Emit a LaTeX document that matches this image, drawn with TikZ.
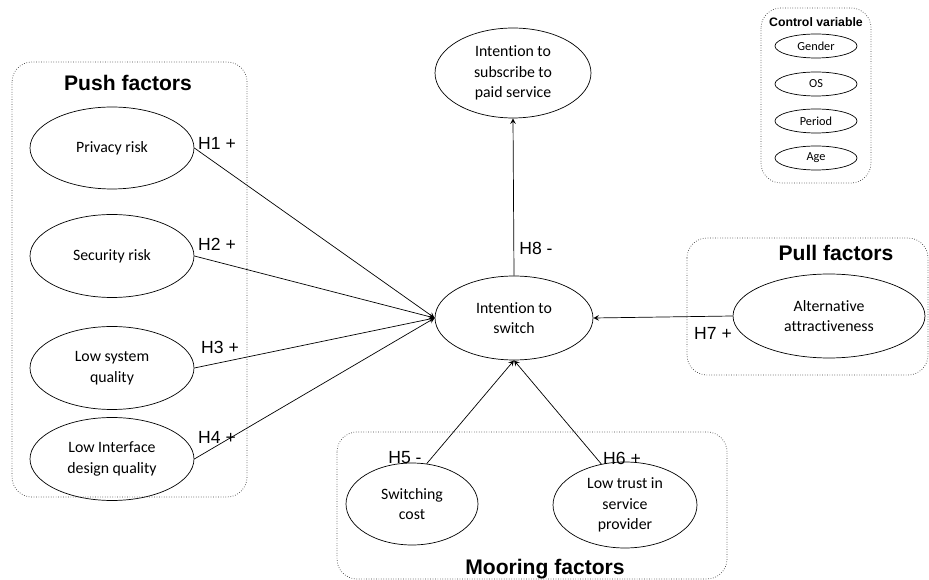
\documentclass[tikz,border=0pt]{standalone}
\usepackage{fontspec}
\setmainfont{Carlito}[Ligatures=NoCommon]
\newfontfamily\arial{Liberation Sans}
\usetikzlibrary{shapes.geometric}
\tikzset{
  construct/.style={draw,ellipse,inner sep=0pt,align=center,font=\fontsize{9}{11.8}\selectfont},
  ctrl/.style={draw,ellipse,inner sep=0pt,minimum width=1.64cm,minimum height=0.48cm,font=\fontsize{7}{8}\selectfont},
  group/.style={draw=black!75,densely dotted,rounded corners=0.4cm},
  hyp/.style={font=\arial\fontsize{10}{12}\selectfont},
  title/.style={font=\arial\bfseries\fontsize{12}{14}\selectfont},
}
\begin{document}
\begin{tikzpicture}[x=0.02cm,y=-0.02cm]
  \useasboundingbox (0,0) rectangle (929,580);
  \draw[group] (12,62) rectangle (247,497);
  \node[title] (push) at (128,83) {Push factors};
  \draw[group] (687,238) rectangle (928,375);
  \node[title] (pull) at (836,253) {Pull factors};
  \draw[group] (337,432) rectangle (727,579);
  \node[title] (mooring) at (545,569) {Mooring factors};
  \draw[group] (761,8) rectangle (871,183);
  \node[font=\arial\bfseries\fontsize{7}{8}\selectfont] (ctrltitle) at (816,22) {Control variable};

  \node[construct,minimum width=3.28cm,minimum height=1.64cm] (privacy) at (112,148) {Privacy risk};
  \node[construct,minimum width=3.28cm,minimum height=1.66cm] (security) at (112,256) {Security risk};
  \node[construct,minimum width=3.28cm,minimum height=1.66cm] (system) at (112,368) {Low system\\quality};
  \node[construct,minimum width=3.28cm,minimum height=1.66cm] (interface) at (112,459) {Low Interface\\design quality};
  \node[construct,minimum width=3.16cm,minimum height=1.68cm] (switch) at (514,318) {Intention to\\switch};
  \node[construct,minimum width=3.12cm,minimum height=1.8cm] (subscribe) at (513,73) {Intention to\\subscribe to\\paid service};
  \node[construct,minimum width=3.84cm,minimum height=1.68cm] (alt) at (829,316) {Alternative\\attractiveness};
  \node[construct,minimum width=2.64cm,minimum height=1.64cm] (cost) at (412,504) {Switching\\cost};
  \node[construct,minimum width=2.88cm,minimum height=1.72cm] (trust) at (625,505) {Low trust in\\service\\provider};

  \node[ctrl] (gender) at (816,46) {Gender};
  \node[ctrl] (os) at (816,84) {OS};
  \node[ctrl] (period) at (816,121) {Period};
  \node[ctrl] (age) at (816,158) {Age};

  \draw[-stealth] (privacy.east) -- (switch.west);
  \draw[-stealth] (security.east) -- (switch.west);
  \draw[-stealth] (system.east) -- (switch.west);
  \draw[-stealth] (interface.east) -- (switch.west);
  \draw[-stealth] (switch.north) -- (subscribe.south);
  \draw[-stealth] (alt.west) -- (switch.east);
  \draw[-stealth] (cost.70) -- (switch.south);
  \draw[-stealth] (trust.120) -- (switch.south);

  \node[hyp] (h1) at (217,143) {H1 +};
  \node[hyp] (h2) at (217,244) {H2 +};
  \node[hyp] (h3) at (220,347) {H3 +};
  \node[hyp] (h4) at (217,437) {H4 +};
  \node[hyp] (h5) at (405,458) {H5 -};
  \node[hyp] (h6) at (622,458) {H6 +};
  \node[hyp] (h7) at (713,333) {H7 +};
  \node[hyp] (h8) at (536,248) {H8 -};
\end{tikzpicture}
\end{document}
